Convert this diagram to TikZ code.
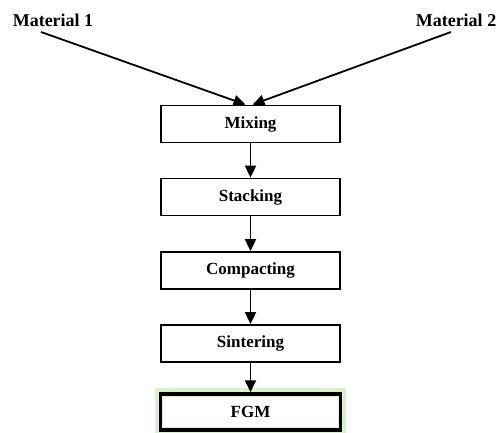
\documentclass[tikz,border=0pt]{standalone}
\usepackage{fontspec}
\setmainfont{Liberation Serif}
\usetikzlibrary{arrows.meta}
\begin{document}
\begin{tikzpicture}[x=1pt,y=-1pt,
  procbox/.style={draw=black, line width=1.8pt, minimum width=179pt, minimum height=37pt, inner sep=0pt, font=\bfseries\fontsize{17}{20}\selectfont},
  lbl/.style={inner sep=0pt, font=\bfseries\fontsize{18}{21}\selectfont},
  flow/.style={line width=1.8pt, -{Triangle[length=12pt,width=11pt]}}
]
\useasboundingbox (0,0) rectangle (498,433);
\node[lbl] (m1) at (53,20) {Material 1};
\node[lbl] (m2) at (456,20) {Material 2};
\coordinate (s1) at (41,32);
\coordinate (s2) at (451,32);
\node[procbox] (mix) at (250.5,124) {Mixing};
\node[procbox] (stack) at (250.5,197) {Stacking};
\node[procbox] (comp) at (250.5,270.5) {Compacting};
\node[procbox] (sint) at (250.5,343.5) {Sintering};
\fill[green!40!olive!20] (155,388) rectangle (346,436);
\fill[white] (163,397) rectangle (338,427);
\node[procbox, line width=3.5pt, minimum width=180pt, minimum height=36pt] (fgm) at (250.5,412) {FGM};
\coordinate (t1) at ([xshift=-5pt]mix.north);
\coordinate (t2) at ([xshift=2pt]mix.north);
\draw[flow] (s1) -- (t1);
\draw[flow] (s2) -- (t2);
\draw[flow] (mix) -- (stack);
\draw[flow] (stack) -- (comp);
\draw[flow] (comp) -- (sint);
\draw[flow] (sint) -- (fgm);
\end{tikzpicture}
\end{document}
